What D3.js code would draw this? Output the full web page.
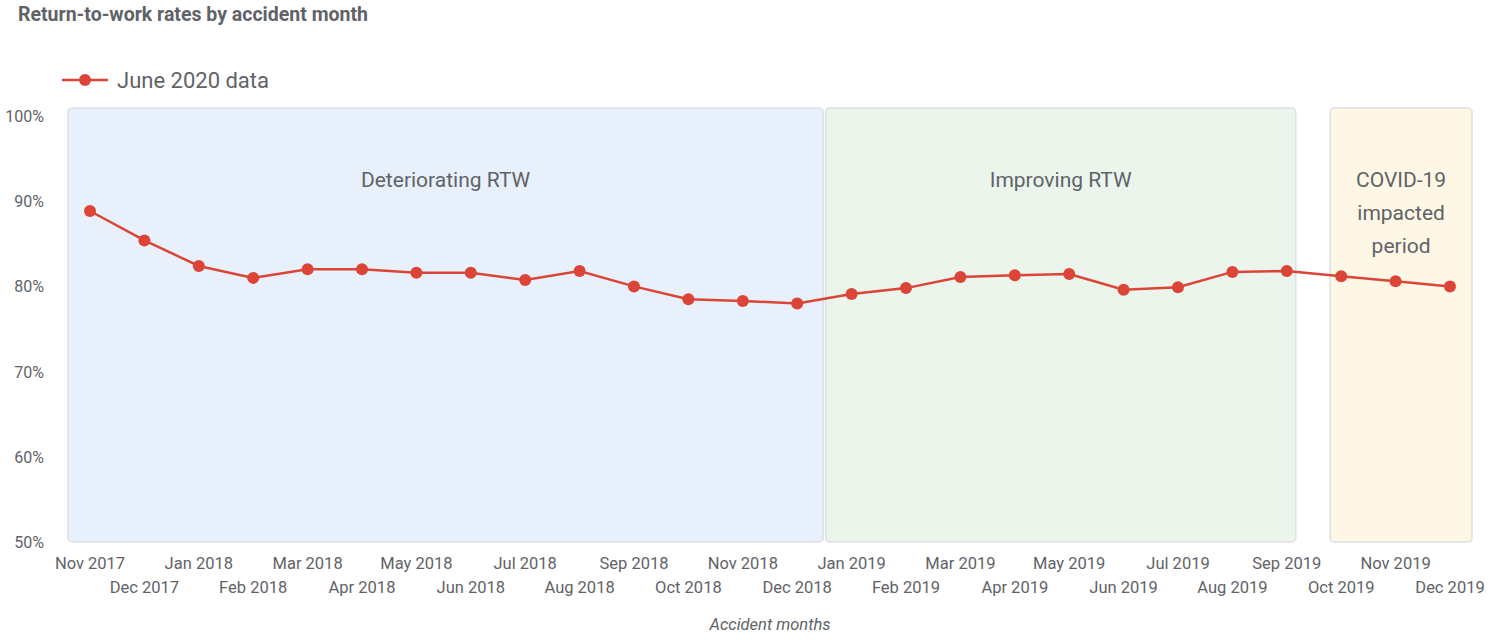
<!DOCTYPE html>
<html><head><meta charset="utf-8">
<script src="https://cdn.jsdelivr.net/npm/d3@7"></script>
<style>body{margin:0;background:#fff;font-family:Roboto,sans-serif}</style>
</head><body><div id="chart"></div>
<script>
const months = ["Nov 2017","Dec 2017","Jan 2018","Feb 2018","Mar 2018","Apr 2018","May 2018","Jun 2018","Jul 2018","Aug 2018","Sep 2018","Oct 2018","Nov 2018","Dec 2018","Jan 2019","Feb 2019","Mar 2019","Apr 2019","May 2019","Jun 2019","Jul 2019","Aug 2019","Sep 2019","Oct 2019","Nov 2019","Dec 2019"];
const rtw = [88.85,85.4,82.4,81.0,82.0,82.0,81.6,81.6,80.75,81.8,80.0,78.5,78.3,78.0,79.1,79.8,81.1,81.3,81.45,79.6,79.9,81.7,81.8,81.2,80.6,80.0];
const periodLabels = [["Deteriorating RTW"], ["Improving RTW"], ["COVID-19","impacted","period"]];
const periodFrom = ["Nov 2017", "Jan 2019", "Oct 2019"];
const periodTo = ["Dec 2018", "Sep 2019", "Dec 2019"];
const periodFills = ["#e8f1fb", "#ebf5ec", "#fef7e6"];
const yTicks = [50,60,70,80,90,100];

const width = 1496, height = 640;
const svg = d3.select("#chart").append("svg").attr("width", width).attr("height", height);

const x = d3.scalePoint().domain(months).range([90, 1450]);
const step = x.step();
const y = d3.scaleLinear().domain([50, 100]).range([542, 116]);

svg.append("text").attr("x", 18).attr("y", 21).attr("fill", "#5f6368")
  .attr("font-size", 19.5).attr("font-weight", "bold").text("Return-to-work rates by accident month");

// period bands; the COVID band's left edge sits close to Sep 2019 in the original
const leftPad = [23, 27, 12];
const rightPad = [27, 10, 23];
const band = svg.selectAll(".band").data(periodLabels).join("g");
band.append("rect")
  .attr("x", (d, i) => x(periodFrom[i]) - leftPad[i] + 1)
  .attr("width", (d, i) => x(periodTo[i]) + rightPad[i] - x(periodFrom[i]) + leftPad[i] - 2)
  .attr("y", y(100) - 8).attr("height", y(50) - y(100) + 8)
  .attr("rx", 4).attr("fill", (d, i) => periodFills[i]).attr("stroke", "#dcdfe3").attr("stroke-width", 1.5);
band.each(function(d, k) {
  const cx = (x(periodFrom[k]) - leftPad[k] + x(periodTo[k]) + rightPad[k]) / 2;
  d3.select(this).selectAll("text").data(d).join("text")
    .attr("x", cx).attr("y", (t, i) => 187 + i * 33).attr("text-anchor", "middle")
    .attr("font-size", 21).attr("fill", "#5f6368").text(t => t);
});

// y axis labels
svg.selectAll(".ytick").data(yTicks).join("text")
  .attr("x", 44).attr("y", d => y(d) + 6).attr("text-anchor", "end")
  .attr("font-size", 16).attr("fill", "#5f6368").text(d => d + "%");

// x labels, two rows
svg.selectAll(".xtick").data(months).join("text")
  .attr("x", d => x(d)).attr("y", (d, i) => i % 2 ? 593 : 569).attr("text-anchor", "middle")
  .attr("font-size", 16.5).attr("fill", "#5f6368").text(d => d);

svg.append("text").attr("x", 770).attr("y", 630).attr("text-anchor", "middle")
  .attr("font-size", 16.5).attr("font-style", "italic").attr("fill", "#5f6368").text("Accident months");

// series
const red = "#db4437";
svg.append("path").datum(rtw)
  .attr("fill", "none").attr("stroke", red).attr("stroke-width", 2.5)
  .attr("d", d3.line().x((d, i) => x(months[i])).y(d => y(d)));
svg.selectAll(".pt").data(rtw).join("circle")
  .attr("cx", (d, i) => x(months[i])).attr("cy", d => y(d)).attr("r", 6).attr("fill", red);

// legend
svg.append("line").attr("x1", 62).attr("x2", 108).attr("y1", 80).attr("y2", 80).attr("stroke", red).attr("stroke-width", 2.5);
svg.append("circle").attr("cx", 85).attr("cy", 80).attr("r", 6).attr("fill", red);
svg.append("text").attr("x", 117).attr("y", 88).attr("font-size", 22).attr("fill", "#5f6368").text("June 2020 data");
</script></body></html>
